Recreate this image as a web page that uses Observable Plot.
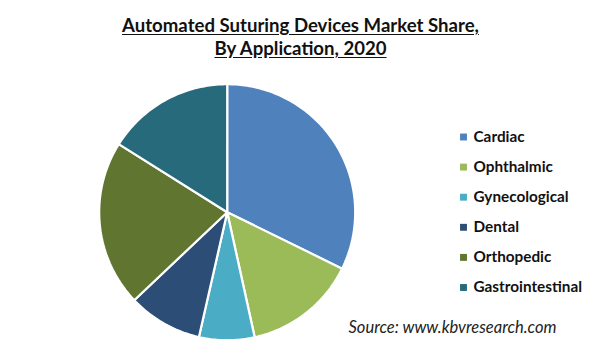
<!DOCTYPE html>
<html><head><meta charset="utf-8">
<script src="https://cdn.jsdelivr.net/npm/d3@7"></script>
<script src="https://cdn.jsdelivr.net/npm/@observablehq/plot@0.6"></script>
<style>
body{margin:0;background:#fff;}
#wrap{width:601px;height:360px;position:relative;overflow:hidden;background:#fff;}
#title{height:68px;box-sizing:border-box;padding-top:14px;text-align:center;font-family:Lato,"Open Sans",sans-serif;font-weight:bold;font-size:18.6px;line-height:23px;color:#111;}
#title span{text-decoration:underline;text-underline-offset:2px;}
#chart svg{display:block;}
</style></head>
<body><div id="wrap">
<div id="title"><span>Automated Suturing Devices Market Share,</span><br><span>By Application, 2020</span></div>
<div id="chart"></div>
</div>
<script>
const categories = ["Cardiac","Ophthalmic","Gynecological","Dental","Orthopedic","Gastrointestinal"];
const shares = [32.3, 14.3, 7.0, 9.4, 21.0, 16.1];
const colors = ["#4F81BD","#9BBB59","#4BACC6","#2C4D75","#5F7530","#276A7C"];
const sourceText = "Source: www.kbvresearch.com";

const W = 601, H = 292, top0 = 68;
const cx = 226.7, cy = 211.7 - top0, R = 128;

const pie = d3.pie().sort(null).value(d => d.v)(categories.map((c,i)=>({c, v: shares[i]})));
const wedge = [];
for (const p of pie) {
  const c = p.data.c;
  wedge.push({c, x: cx, y: cy});
  const n = Math.max(2, Math.ceil((p.endAngle - p.startAngle) / (Math.PI/180)));
  for (let k = 0; k <= n; k++) {
    const a = p.startAngle + (p.endAngle - p.startAngle) * k / n;
    wedge.push({c, x: cx + R*Math.sin(a), y: cy - R*Math.cos(a)});
  }
}
const legendRows = categories.map((c,i)=>({c, y: 136.5 - top0 + i*30.1}));

const chart = Plot.plot({
  width: W, height: H, margin: 0,
  x: {type: "identity", axis: null}, y: {type: "identity", axis: null},
  color: {domain: categories, range: colors},
  style: {fontFamily: "Lato, 'Open Sans', sans-serif", background: "#fff"},
  marks: [
    Plot.line(wedge, {x: "x", y: "y", z: "c", fill: "c", stroke: "white", strokeWidth: 2.2, curve: "linear-closed", strokeLinejoin: "miter"}),
    Plot.dot(legendRows, {x: 463, y: "y", symbol: "square", r: 3.9, fill: "c", stroke: null}),
    Plot.text(legendRows, {x: 473, y: "y", text: "c", textAnchor: "start", fontWeight: "bold", fontSize: 15.3, fill: "#111"}),
    Plot.text([sourceText], {x: 348, y: 327 - top0, text: d => d, textAnchor: "start", fontStyle: "italic", fontSize: 16.5, fill: "#222"})
  ]
});
document.getElementById("chart").appendChild(chart);
</script>
</body></html>
